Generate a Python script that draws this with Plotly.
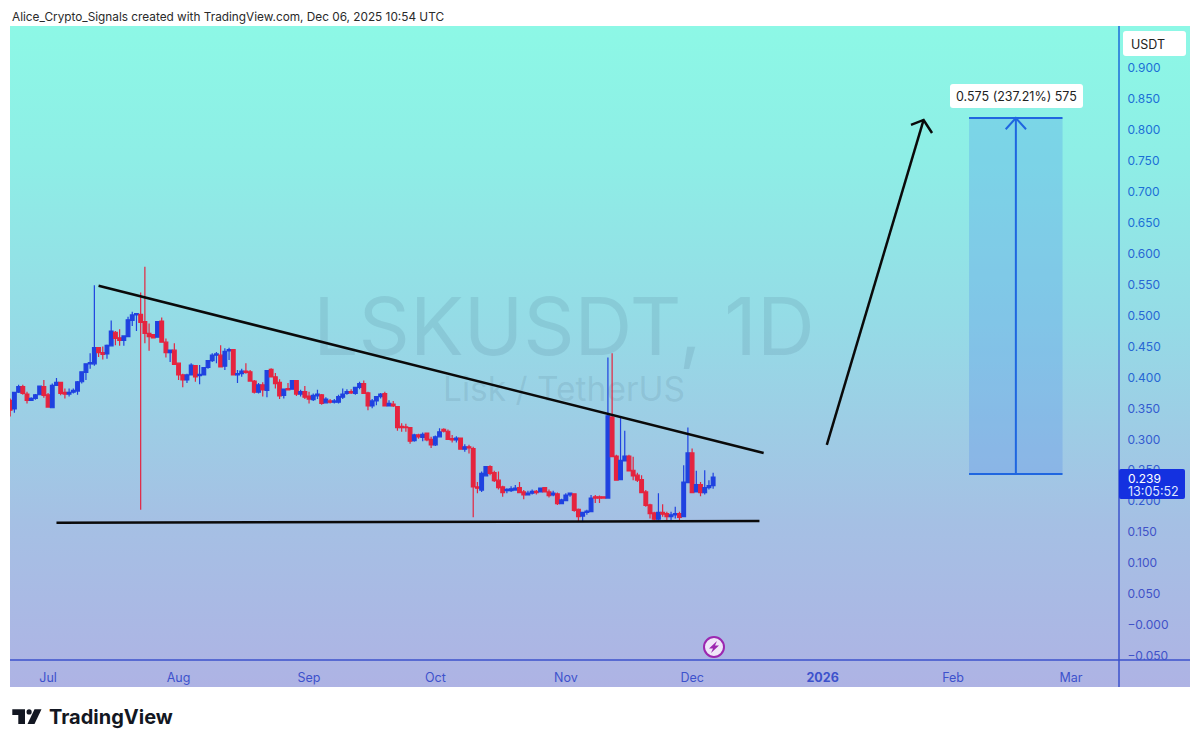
# LSKUSDT daily chart, TradingView look
import pandas as pd
import plotly.graph_objects as go

# Candles, one per day from 22 Jun 2025
candle_start = "2025-06-22"
candle_open = [
    .363, .349, .376, .385, .373, .363, .366, .372, .385, .372,
    .351, .387, .392, .376, .373, .376, .378, .393, .408, .422,
    .422, .448, .440, .438, .451, .473, .464, .460, .466, .492,
    .501, .502, .490, .471, .469, .465, .491, .457, .440, .444,
    .423, .404, .396, .404, .419, .403, .404, .416, .427, .436,
    .436, .418, .443, .445, .404, .406, .410, .409, .394, .376,
    .388, .379, .413, .401, .392, .371, .382, .381, .395, .373,
    .377, .370, .364, .370, .372, .359, .362, .360, .360, .368,
    .374, .377, .374, .384, .390, .375, .354, .362, .369, .374,
    .354, .357, .353, .321, .320, .319, .298, .307, .303, .310,
    .300, .291, .304, .316, .313, .301, .299, .302, .284, .288,
    .285, .223, .218, .241, .256, .246, .234, .223, .217, .217,
    .218, .222, .215, .210, .213, .216, .215, .222, .215, .210,
    .212, .196, .201, .210, .212, .187, .176, .182, .183, .207,
    .207, .207, .205, .336, .273, .235, .265, .273, .250, .242,
    .235, .215, .194, .181, .171, .182, .180, .175, .178, .180,
    .175, .230, .278, .215, .227, .214, .222, .225,
]
candle_close = [
    .347, .376, .385, .374, .363, .366, .372, .386, .371, .352,
    .387, .392, .374, .373, .376, .379, .393, .409, .422, .424,
    .448, .440, .437, .452, .475, .463, .460, .467, .493, .501,
    .503, .489, .471, .466, .464, .490, .457, .440, .444, .421,
    .404, .396, .404, .420, .401, .405, .416, .427, .436, .438,
    .417, .442, .445, .404, .406, .410, .408, .394, .376, .388,
    .380, .411, .401, .390, .370, .381, .380, .395, .373, .377,
    .368, .365, .371, .373, .358, .365, .360, .362, .369, .373,
    .377, .375, .384, .390, .374, .354, .362, .369, .373, .354,
    .358, .354, .319, .319, .319, .297, .307, .304, .308, .299,
    .291, .304, .312, .313, .300, .299, .302, .284, .288, .286,
    .223, .221, .245, .256, .245, .233, .222, .214, .219, .220,
    .221, .214, .210, .213, .216, .214, .221, .215, .209, .213,
    .196, .202, .210, .213, .185, .175, .182, .184, .205, .205,
    .205, .205, .338, .272, .234, .266, .273, .249, .241, .234,
    .214, .193, .180, .171, .182, .179, .175, .178, .180, .174,
    .231, .278, .214, .227, .214, .222, .225, .239,
]
candle_high = [
    .366, .377, .388, .388, .377, .368, .373, .387, .396, .375,
    .390, .399, .393, .382, .382, .382, .394, .410, .423, .439,
    .549, .449, .450, .453, .492, .475, .478, .468, .498, .506,
    .503, .537, .579, .487, .470, .491, .497, .463, .445, .455,
    .424, .406, .406, .423, .420, .420, .417, .428, .439, .441,
    .452, .447, .448, .446, .412, .414, .423, .412, .396, .391,
    .392, .412, .415, .407, .397, .382, .391, .396, .396, .380,
    .386, .377, .374, .380, .373, .368, .365, .365, .372, .382,
    .381, .381, .385, .393, .395, .377, .365, .370, .375, .377,
    .363, .362, .354, .326, .325, .320, .309, .309, .311, .311,
    .304, .306, .318, .318, .316, .307, .305, .303, .292, .291,
    .288, .231, .248, .257, .258, .249, .248, .225, .221, .224,
    .226, .231, .218, .217, .219, .218, .222, .223, .219, .217,
    .214, .204, .213, .214, .213, .188, .183, .186, .210, .210,
    .209, .208, .432, .439, .275, .336, .314, .275, .272, .246,
    .242, .218, .196, .183, .213, .195, .183, .183, .191, .183,
    .258, .319, .285, .249, .231, .250, .234, .246,
]
candle_low = [
    .337, .343, .375, .372, .358, .362, .364, .372, .367, .352,
    .350, .386, .371, .366, .369, .374, .372, .390, .396, .414,
    .419, .433, .429, .430, .451, .452, .451, .451, .466, .483,
    .475, .186, .455, .443, .463, .464, .456, .432, .425, .420,
    .396, .384, .391, .403, .393, .389, .403, .414, .425, .423,
    .416, .412, .428, .403, .391, .401, .406, .393, .374, .374,
    .369, .368, .400, .382, .365, .366, .380, .380, .370, .369,
    .365, .358, .362, .365, .356, .358, .358, .358, .358, .365,
    .372, .373, .372, .381, .373, .347, .350, .355, .366, .353,
    .353, .352, .314, .312, .312, .293, .296, .301, .297, .297,
    .286, .289, .303, .311, .299, .295, .295, .283, .280, .277,
    .174, .213, .215, .240, .242, .231, .219, .207, .213, .215,
    .217, .213, .203, .209, .211, .211, .214, .214, .206, .208,
    .194, .195, .200, .207, .183, .167, .167, .178, .182, .197,
    .197, .204, .204, .271, .233, .234, .264, .248, .234, .231,
    .213, .191, .172, .169, .169, .175, .169, .168, .172, .169,
    .174, .229, .213, .214, .208, .211, .219, .220,
]
candle_dates = pd.date_range(candle_start, periods=len(candle_open), freq="D")

# Axis labels
month_dates = ["2025-07-01", "2025-08-01", "2025-09-01", "2025-10-01", "2025-11-01",
               "2025-12-01", "2026-01-01", "2026-02-01", "2026-03-01"]
month_labels = ["Jul", "Aug", "Sep", "Oct", "Nov", "Dec", "<b>2026</b>", "Feb", "Mar"]
price_ticks = [.90, .85, .80, .75, .70, .65, .60, .55, .50, .45, .40, .35, .30, .25,
               .20, .15, .10, .05, 0, -.05]
price_labels = ["0.900", "0.850", "0.800", "0.750", "0.700", "0.650", "0.600", "0.550",
                "0.500", "0.450", "0.400", "0.350", "0.300", "0.250", "0.200", "0.150",
                "0.100", "0.050", "\u22120.000", "\u22120.050"]

# Hand drawn lines on the chart
resistance_dates = ["2025-07-13", "2025-12-18"]
resistance_prices = [.548, .278]
support_dates = ["2025-07-03", "2025-12-17"]
support_prices = [.165, .168]
arrow_dates = ["2026-01-02", "2026-01-25"]
arrow_prices = [.291, .816]
arrow_head_dates = ["2026-01-22", "2026-01-25", "2026-01-27"]
arrow_head_prices = [.808, .816, .795]
last_price = .239

# Long position box
target_start, target_end = "2026-02-04 19:00", "2026-02-27"
target_mid = "2026-02-15 22:00"
target_low, target_high = .244, .819
target_head_dates = ["2026-02-13 12:00", target_mid, "2026-02-18 08:00"]
target_head_prices = [.801, target_high, .801]

W, H = 1200, 747
# plotly left the plot area 3px short of the page, so the figure is that much taller
FIG_H = H + 3
AXIS_BLUE_TOP = "#1d6cd8"
AXIS_BLUE_BOTTOM = "#3d52cc"


def tick_colour(price):
    if price > .6:
        return "#1b6fd6"
    if price > .35:
        return "#2766d4"
    if price > .15:
        return "#335bd0"
    return "#4052c8"


def rounded_box(x0, y0, x1, y1, r):
    return (f"M{x0 + r},{y0} L{x1 - r},{y0} Q{x1},{y0} {x1},{y0 + r} L{x1},{y1 - r} "
            f"Q{x1},{y1} {x1 - r},{y1} L{x0 + r},{y1} Q{x0},{y1} {x0},{y1 - r} "
            f"L{x0},{y0 + r} Q{x0},{y0} {x0 + r},{y0} Z")


fig = go.Figure()

# Panel gradient and watermark sit on the full page axes, under the chart
fig.add_trace(go.Scatter(
    x=[10, 1190, 1190, 10, 10], y=[26, 26, 687, 687, 26],
    mode="none", fill="toself",
    fillgradient=dict(type="vertical", colorscale=[
        [0, "#aeb3e4"], [0.25, "#a5c0e4"], [0.55, "#95dbe6"], [0.8, "#8eeee6"], [1, "#8df8e6"],
    ]),
    hoverinfo="skip", showlegend=False,
))
fig.add_trace(go.Scatter(
    x=[564, 564], y=[335, 393], mode="text",
    text=["LSKUSDT, 1D", "Lisk / TetherUS"],
    textfont=dict(family="Inter", size=[80, 33.5], color="rgba(80,120,140,0.17)"),
    hoverinfo="skip", showlegend=False,
))

fig.add_trace(go.Candlestick(
    x=candle_dates, open=candle_open, high=candle_high, low=candle_low, close=candle_close,
    increasing=dict(line=dict(color="#1f42e0", width=1.2), fillcolor="#1f42e0"),
    decreasing=dict(line=dict(color="#e5243f", width=1.2), fillcolor="#e5243f"),
    whiskerwidth=0, xaxis="x2", yaxis="y2", hoverinfo="skip", showlegend=False,
))

for xs, ys, colour, width in [
    (resistance_dates, resistance_prices, "#0a0a0a", 2.5),
    (support_dates, support_prices, "#0a0a0a", 2.5),
    (arrow_dates, arrow_prices, "#0a0a0a", 2.5),
    (arrow_head_dates, arrow_head_prices, "#0a0a0a", 2.5),
    ([target_mid, target_mid], [target_low, target_high], "#1f66e0", 2),
    (target_head_dates, target_head_prices, "#1f66e0", 2),
    ([target_start, target_end], [target_high, target_high], "#1f66e0", 2),
    ([target_start, target_end], [target_low, target_low], "#1f66e0", 2),
]:
    fig.add_trace(go.Scatter(x=xs, y=ys, mode="lines", line=dict(color=colour, width=width),
                             xaxis="x2", yaxis="y2", hoverinfo="skip", showlegend=False))

shapes = [
    # position box
    dict(type="rect", xref="x2", yref="y2", x0=target_start, x1=target_end,
         y0=target_low, y1=target_high, fillcolor="rgba(60,120,235,0.22)",
         line_width=0, layer="below"),
    # last price line
    dict(type="line", xref="x2 domain", yref="y2", x0=0, x1=1, y0=last_price, y1=last_price,
         line=dict(color="#2b5ad8", width=1, dash="dot"), layer="below"),
    # axis frame
    dict(type="line", xref="x", yref="y", x0=1119, x1=1119, y0=26, y1=350,
         line=dict(color=AXIS_BLUE_TOP, width=1.5)),
    dict(type="line", xref="x", yref="y", x0=1119, x1=1119, y0=350, y1=687,
         line=dict(color=AXIS_BLUE_BOTTOM, width=1.5)),
    dict(type="line", xref="x", yref="y", x0=10, x1=1190, y0=660, y1=660,
         line=dict(color=AXIS_BLUE_BOTTOM, width=1.5)),
    # USDT box, measure label, last price tag
    dict(type="path", xref="x", yref="y", path=rounded_box(1123, 31, 1186, 56, 3),
         fillcolor="white", line_width=0),
    dict(type="path", xref="x", yref="y", path=rounded_box(950, 84, 1083, 108, 3),
         fillcolor="white", line_width=0),
    dict(type="path", xref="x", yref="y", path=rounded_box(1119, 469, 1185, 499, 2),
         fillcolor="#1431e0", line_width=0),
    # lightning badge
    dict(type="circle", xref="x", yref="y", x0=704, x1=724, y0=637, y1=657,
         fillcolor="#efe6f8", line=dict(color="#9c27b0", width=2)),
    dict(type="path", xref="x", yref="y",
         path="M717,641 L709,648.5 L713,648.5 L711,653 L719,645.5 L715,645.5 Z",
         fillcolor="#9c27b0", line_width=0),
    # TradingView mark
    dict(type="path", xref="x", yref="y",
         path="M12.3,709.3 L25,709.3 L25,724 L18.3,724 L18.3,715 L12.3,715 Z",
         fillcolor="#131722", line_width=0),
    dict(type="circle", xref="x", yref="y", x0=26.5, x1=31.7, y0=709.3, y1=714.5,
         fillcolor="#131722", line_width=0),
    dict(type="path", xref="x", yref="y",
         path="M34.5,709.3 L41.5,709.3 L34.5,724 L27.5,724 Z",
         fillcolor="#131722", line_width=0),
]


def note(x, y, text, size=12.5, colour="#222222", anchor="left", family="Inter"):
    return dict(x=x, y=y, xref="x", yref="y", text=text, showarrow=False, xanchor=anchor,
                yanchor="middle", align=anchor, font=dict(family=family, size=size, color=colour))


annotations = [
    note(10, 17, "Alice_Crypto_Signals created with TradingView.com, Dec 06, 2025 10:54 UTC",
         size=11.8, colour="#2a2a2a"),
    note(1129, 44, "USDT", size=12.5),
    note(1016.5, 96.5, "0.575 (237.21%) 575", size=12.5, anchor="center"),
    note(1125.5, 478, "0.239", size=12, colour="white"),
    note(1125.5, 491, "13:05:52", size=12.5, colour="#dfe6ff"),
    note(47, 717, "<b>TradingView</b>", size=20, colour="#131722"),
]

fig.update_layout(
    width=W, height=FIG_H, margin=dict(l=0, r=0, t=0, b=0, pad=0),
    paper_bgcolor="white", plot_bgcolor="rgba(0,0,0,0)", showlegend=False,
    boxgap=0.12, boxgroupgap=0, shapes=shapes, annotations=annotations,
    xaxis=dict(domain=[0, 1], range=[0, W], visible=False, fixedrange=True),
    yaxis=dict(domain=[0, 1], range=[H, 0], visible=False, fixedrange=True),
    xaxis2=dict(
        domain=[10 / W, 1119 / W], anchor="y2", type="date",
        range=["2025-06-21 23:00", "2026-03-12 10:00"],
        rangeslider=dict(visible=False), showgrid=False, zeroline=False, showline=False,
        tickmode="array", tickvals=month_dates, ticktext=month_labels,
        ticks="outside", ticklen=6, tickcolor="rgba(0,0,0,0)",
        tickfont=dict(family="Inter", size=12.5, color=AXIS_BLUE_BOTTOM),
    ),
    yaxis2=dict(
        domain=[1 - 660 / H, 1 - 26 / H], anchor="x2", side="right",
        range=[-.0566, .9678], showgrid=False, zeroline=False, showline=False,
        tickmode="array", tickvals=price_ticks,
        ticktext=[f'<span style="color:{tick_colour(p)}">{t}</span>'
                  for p, t in zip(price_ticks, price_labels)],
        ticks="outside", ticklen=5, tickcolor="rgba(0,0,0,0)",
        tickfont=dict(family="Inter", size=12),
    ),
)

fig.write_html("out.html", config={"displayModeBar": False},
               post_script="document.body.style.margin='0';document.documentElement.style.overflow='hidden';")
